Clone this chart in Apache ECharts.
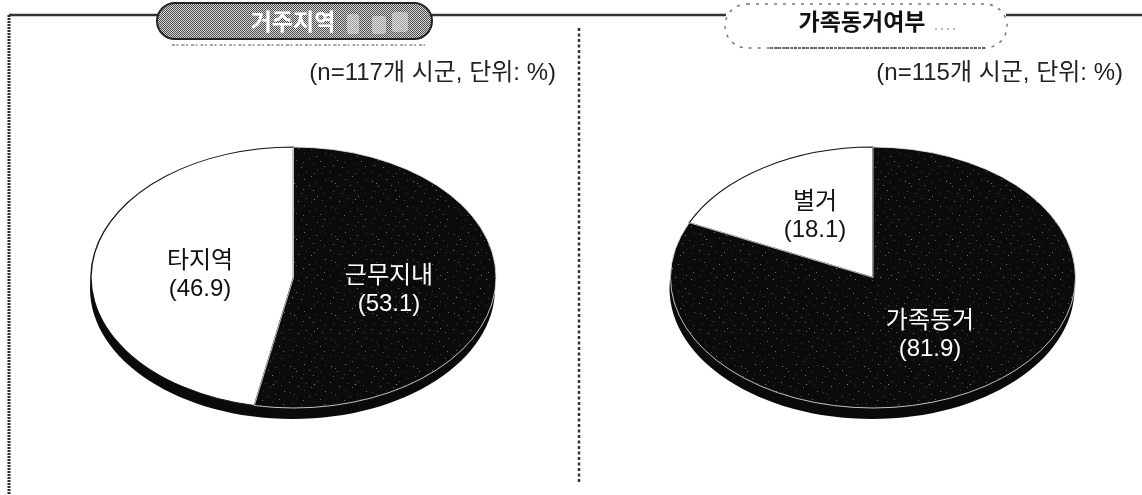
<!DOCTYPE html>
<html><head><meta charset="utf-8">
<style>html,body{margin:0;padding:0;background:#fff}#c{width:1142px;height:495px}</style>
<script src="https://cdn.jsdelivr.net/npm/echarts@6/dist/echarts.min.js"></script>
</head><body><div id="c"></div>
<script>
const leftCategories = ['근무지내', '타지역'];
const leftValues = [53.1, 46.9];
const rightCategories = ['가족동거', '별거'];
const rightValues = [81.9, 18.1];
const leftTitle = '거주지역';
const rightTitle = '가족동거여부';
const leftNote = '(n=117개 시군, 단위: %)';
const rightNote = '(n=115개 시군, 단위: %)';

const FONT = '"Liberation Sans","Noto Sans CJK KR",sans-serif';

// Print-grain textures (fixed tiles, no chart data in them)
function tile(size, base, dots, dotCol) {
  const c = document.createElement('canvas');
  c.width = c.height = size;
  const g = c.getContext('2d');
  g.fillStyle = base; g.fillRect(0,0,size,size);
  g.fillStyle = dotCol;
  dots.forEach(d => g.fillRect(d[0], d[1], 1, 1));
  return {image:c, repeat:'repeat'};
}
const grain = tile(41, '#0b0b0b', [[3,5],[17,2],[29,7],[38,3],[9,13],[22,11],[33,15],[5,21],[14,24],[26,19],[37,23],[2,30],[19,31],[30,28],[11,36],[24,38],[35,34],[7,8],[27,33],[16,17]], '#8a8a8a');
const dither = tile(2, '#d8d8d8', [[0,0],[1,1]], '#4a4a4a');

const chart = echarts.init(document.getElementById('c'), null, {renderer:'canvas'});

function ellipsePie(name, cats, vals, cx, labelPos) {
  const rx = 202.5, ry = 130.5, cy = 277.5, k = ry / rx, total = vals.reduce((a,b)=>a+b,0);
  const rows = cats.map((c,i)=>[c, vals[i], vals.slice(0,i).reduce((a,b)=>a+b,0)]);
  return {
    type:'custom', name, coordinateSystem:'none', data:rows, silent:true, z:3,
    encode:{itemName:0, value:1},
    renderItem(params, api){
      const i = params.dataIndex;
      const v = api.value(1), before = api.value(2);
      const a0 = -Math.PI/2 + before/total*2*Math.PI;
      const a1 = a0 + v/total*2*Math.PI;
      const dark = i === 0;
      const children = [];
      if (dark) {
        children.push({type:'ellipse', shape:{cx:cx-1, cy:cy+11, rx:rx, ry:ry}, style:{fill:'#0a0a0a'}, z2:0});
      }
      children.push({
        type:'sector', originX:cx, originY:cy, scaleY:k,
        shape:{cx, cy, r:rx, r0:0, startAngle:a0, endAngle:a1, clockwise:true},
        style:{fill:dark?grain:'#ffffff', stroke:dark?'#e8e8e8':'#111', lineWidth:dark?1:1.4, strokeNoScale:true}, z2:dark?2:1
      });
      const lp = labelPos[i];
      children.push({type:'text', x:lp[0], y:lp[1], style:{
        text:cats[i]+'\n('+v.toFixed(1)+')', fill:dark?'#fff':'#111', font:'24px '+FONT,
        align:'center', verticalAlign:'middle', lineHeight:28}, z2:5});
      return {type:'group', children};
    }
  };
}

function line(x1,y1,x2,y2,dash,w,col,z){
  return {type:'line', shape:{x1,y1,x2,y2}, style:{stroke:col||'#333', lineWidth:w||2, lineDash:dash||null}, silent:true, z:z||1};
}
function pill(x,y,w,h,fill,stroke,dash,lw){
  return {type:'rect', shape:{x,y,width:w,height:h,r:h/2}, style:{fill, stroke, lineWidth:lw||1.5, lineDash:dash||null}, silent:true, z:2};
}
function text(x,y,t,size,col,align,weight){
  return {type:'text', x, y, style:{text:t, font:(weight||'normal')+' '+size+'px '+FONT, fill:col, align:align||'center', verticalAlign:'middle'}, silent:true, z:4};
}

chart.setOption({
  animation:false,
  backgroundColor:'#fff',
  series:[
    ellipsePie('거주지역', leftCategories, leftValues, 293.5, [[389,290],[200,275]]),
    ellipsePie('가족동거', rightCategories, rightValues, 873, [[930,335],[815,216]])
  ],
  graphic:[
    line(9,15,157,15,null,2.5),
    line(432,15,726,15,null,2.5),
    line(1006,15,1142,15,null,2.5),
    line(9,15,9,495,[2,1],3,'#2c2c2c'),
    line(579,28,579,482,[3,2.5],2.5,'#333'),
    pill(157,3,275,36,dither,'#222',null,2),
    {type:'rect', shape:{x:347,y:14,width:12,height:20,r:3}, style:{fill:'#e6e6e6',opacity:.55}, silent:true, z:3},
    {type:'rect', shape:{x:372,y:16,width:14,height:18,r:3}, style:{fill:'#e6e6e6',opacity:.55}, silent:true, z:3},
    {type:'rect', shape:{x:392,y:12,width:16,height:20,r:3}, style:{fill:'#e6e6e6',opacity:.55}, silent:true, z:3},
    line(172,45,425,45,[3,1.5,2,3],1.5,'#888'),
    pill(725,4,282,44,'#fff','#777',[3,6],1.5),
    line(770,48,985,48,[3,1],1.5,'#444',3),
    line(935,29,958,29,[2,4],1.2,'#777',3),
    text(293,24,leftTitle,23,'#fff','center','bold'),
    text(862,24,rightTitle,23,'#111','center','bold'),
    text(556,73,leftNote,24,'#222','right'),
    text(1123,73,rightNote,24,'#222','right')
  ]
});
</script></body></html>
